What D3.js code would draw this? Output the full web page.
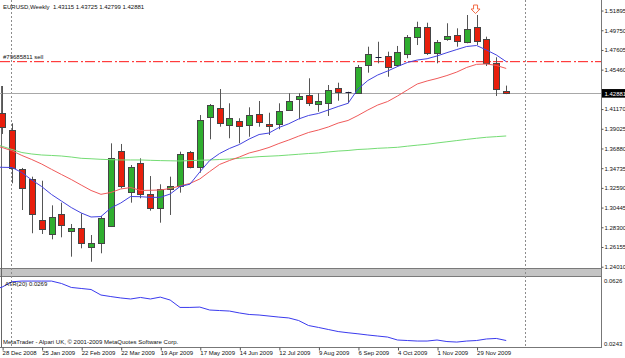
<!DOCTYPE html>
<html><head><meta charset="utf-8">
<script src="https://cdn.jsdelivr.net/npm/d3@7"></script>
<style>
html,body{margin:0;padding:0;background:#fff;overflow:hidden}
svg{display:block}
text{font-family:"Liberation Sans",Arial,sans-serif;font-size:6px;fill:#111}
</style>
</head><body>
<svg id="c" width="625" height="358"></svg>
<script>
// ---- data ----
const weeks = ["28 Dec 2008","4 Jan 2009","11 Jan 2009","18 Jan 2009","25 Jan 2009","1 Feb 2009","8 Feb 2009","15 Feb 2009","22 Feb 2009","1 Mar 2009","8 Mar 2009","15 Mar 2009","22 Mar 2009","29 Mar 2009","5 Apr 2009","12 Apr 2009","19 Apr 2009","26 Apr 2009","3 May 2009","10 May 2009","17 May 2009","24 May 2009","31 May 2009","7 Jun 2009","14 Jun 2009","21 Jun 2009","28 Jun 2009","5 Jul 2009","12 Jul 2009","19 Jul 2009","26 Jul 2009","2 Aug 2009","9 Aug 2009","16 Aug 2009","23 Aug 2009","30 Aug 2009","6 Sep 2009","13 Sep 2009","20 Sep 2009","27 Sep 2009","4 Oct 2009","11 Oct 2009","18 Oct 2009","25 Oct 2009","1 Nov 2009","8 Nov 2009","15 Nov 2009","22 Nov 2009","29 Nov 2009","6 Dec 2009","13 Dec 2009","20 Dec 2009"];
const openP  = [1.4078,1.3889,1.3461,1.3352,1.2909,1.2754,1.2971,1.2790,1.2819,1.2612,1.2662,1.2844,1.3661,1.3218,1.3530,1.3189,1.3037,1.3244,1.3280,1.3653,1.3483,1.4027,1.4125,1.3940,1.3987,1.3944,1.4063,1.3954,1.3951,1.4107,1.4223,1.4270,1.4172,1.4186,1.4343,1.4300,1.4295,1.4597,1.4687,1.4695,1.4597,1.4716,1.4898,1.5007,1.4731,1.4876,1.4923,1.4850,1.5007,1.4876,1.4622,1.43115];
const highP  = [1.4368,1.3962,1.3476,1.3381,1.3337,1.3069,1.3098,1.2866,1.2982,1.2746,1.2953,1.3744,1.3737,1.3508,1.3581,1.3388,1.3298,1.3381,1.3653,1.3660,1.4052,1.4172,1.4335,1.4180,1.4017,1.4136,1.4205,1.4077,1.4180,1.4289,1.4289,1.4452,1.4289,1.4379,1.4404,1.4306,1.4597,1.4796,1.4850,1.4742,1.4804,1.4923,1.5068,1.5057,1.4869,1.5051,1.4996,1.5141,1.5141,1.4905,1.4681,1.43725];
const lowP   = [1.3846,1.3309,1.3018,1.2765,1.2757,1.2699,1.2721,1.2510,1.2601,1.2455,1.2547,1.2833,1.3255,1.3098,1.3146,1.3011,1.2880,1.2964,1.3207,1.3472,1.3424,1.3788,1.3925,1.3799,1.3744,1.3816,1.3925,1.3835,1.3897,1.4101,1.4006,1.4150,1.4088,1.4042,1.4208,1.4180,1.4295,1.4513,1.4615,1.4469,1.4578,1.4670,1.4814,1.4706,1.4615,1.4861,1.4796,1.4833,1.4814,1.4586,1.4259,1.42799];
const closeP = [1.3919,1.3479,1.3261,1.2971,1.2808,1.2939,1.2858,1.2826,1.2662,1.2656,1.2928,1.3581,1.3280,1.3483,1.3189,1.3037,1.3244,1.3280,1.3631,1.3490,1.3995,1.4158,1.3962,1.4017,1.3933,1.4052,1.3976,1.3933,1.4099,1.4202,1.4259,1.4180,1.4205,1.4325,1.4300,1.4300,1.4572,1.4716,1.4687,1.4578,1.4735,1.4905,1.5007,1.4724,1.4844,1.4912,1.4861,1.4985,1.4861,1.4615,1.4332,1.42881];
// moving averages & ATR start one week before the first visible week (index -1)
const maFast = [1.3486,1.3483,1.3481,1.3426,1.3345,1.3274,1.3187,1.3116,1.3045,1.2986,1.2942,1.2947,1.3040,1.3094,1.3165,1.3163,1.3156,1.3156,1.3192,1.3274,1.3299,1.3432,1.3557,1.3633,1.3688,1.3731,1.3791,1.3840,1.3856,1.3916,1.3957,1.4009,1.4047,1.4069,1.4107,1.4145,1.4180,1.4335,1.4428,1.4488,1.4531,1.4580,1.4624,1.4651,1.4665,1.4695,1.4731,1.4765,1.4798,1.4809,1.4760,1.4706,1.4633];
const maMid  = [1.3720,1.3699,1.3663,1.3612,1.3568,1.3519,1.3461,1.3405,1.3350,1.3290,1.3231,1.3189,1.3209,1.3247,1.3263,1.3231,1.3233,1.3236,1.3252,1.3280,1.3307,1.3356,1.3437,1.3514,1.3557,1.3595,1.3639,1.3666,1.3699,1.3742,1.3780,1.3822,1.3862,1.3889,1.3922,1.3965,1.3993,1.4047,1.4107,1.4161,1.4199,1.4259,1.4325,1.4390,1.4423,1.4450,1.4482,1.4520,1.4570,1.4604,1.4608,1.4592,1.4559];
const maSlow = [1.3748,1.3712,1.3677,1.3644,1.3628,1.3617,1.3612,1.3606,1.3595,1.3581,1.3576,1.3570,1.3566,1.3563,1.3563,1.3563,1.3559,1.3556,1.3554,1.3552,1.3556,1.3560,1.3563,1.3568,1.3573,1.3581,1.3590,1.3599,1.3604,1.3609,1.3617,1.3625,1.3633,1.3639,1.3650,1.3660,1.3666,1.3677,1.3682,1.3690,1.3695,1.3701,1.3713,1.3724,1.3734,1.3748,1.3761,1.3774,1.3787,1.3799,1.3810,1.3817,1.3824];
const atr20  = [0.0562,0.0579,0.0610,0.0614,0.0614,0.0614,0.0614,0.0600,0.0577,0.0571,0.0565,0.0533,0.0524,0.0516,0.0510,0.0519,0.0510,0.0521,0.0504,0.0461,0.0461,0.0463,0.0446,0.0443,0.0440,0.0429,0.0420,0.0417,0.0411,0.0405,0.0400,0.0385,0.0356,0.0345,0.0333,0.0321,0.0314,0.0308,0.0301,0.0295,0.0289,0.0272,0.0269,0.0266,0.0266,0.0272,0.0263,0.0260,0.0266,0.0269,0.0278,0.0281,0.0269];
const priceTicks = [1.24010,1.26155,1.28300,1.30445,1.32590,1.34735,1.36880,1.39025,1.41170,1.43315,1.45460,1.47605,1.49750,1.51895];
const atrTicks = [0.0243,0.0626];
const dateTickIdx = [0,4,8,12,16,20,24,28,32,36,40,44,48];
const separatorIdx = [1,53];          // year separators (4 Jan 2009, 3 Jan 2010)
const orderPrice = 1.4640, orderLabel = "#79685811 sell";
const bidPrice = 1.42881;
const arrowIdx = 48;
const title = "EURUSD,Weekly  1.43115 1.43725 1.42799 1.42881";
const atrLabel = "ATR(20) 0.0269";
const copyright = "MetaTrader - Alpari UK, \u00a9 2001-2009 MetaQuotes Software Corp.";

// ---- layout ----
const svg = d3.select("#c");
const R = 601;
const mainTop = 0, mainBot = 268, indTop = 277, indBot = 347;
const x  = d3.scaleLinear().domain([0, 52]).range([2.1, 516.1]);
const y  = d3.scaleLinear().domain([priceTicks[0], priceTicks[priceTicks.length-1]]).range([266.7, 10.55]);
const ya = d3.scaleLinear().domain(atrTicks).range([345, 279]);
const px = v => Math.round(v) + 0.5;
const fmt5 = d3.format(".5f");

svg.append("rect").attr("width",625).attr("height",358).attr("fill","#ffffff");
const defs = svg.append("defs");
defs.append("clipPath").attr("id","cm").append("rect").attr("x",0).attr("y",mainTop).attr("width",R).attr("height",mainBot-mainTop);
defs.append("clipPath").attr("id","ci").append("rect").attr("x",0).attr("y",indTop).attr("width",R).attr("height",indBot-indTop);

// separator band between panes
svg.append("rect").attr("x",0).attr("y",mainBot).attr("width",R).attr("height",indTop-mainBot).attr("fill","#c4c4c4");
[mainBot+0.5, indTop-0.5].forEach(v => svg.append("line").attr("x1",0).attr("x2",R).attr("y1",v).attr("y2",v).attr("stroke","#7a7a7a"));
svg.append("line").attr("x1",1.5).attr("x2",1.5).attr("y1",86).attr("y2",indBot).attr("stroke","#666");

// period separators
separatorIdx.forEach(i => svg.append("line").attr("x1",px(x(i))-1).attr("x2",px(x(i))-1).attr("y1",0).attr("y2",indBot)
  .attr("stroke","#8c8c8c").attr("stroke-dasharray","2,2"));

const main = svg.append("g").attr("clip-path","url(#cm)");
// bid line
main.append("line").attr("x1",0).attr("x2",R).attr("y1",px(y(bidPrice))).attr("y2",px(y(bidPrice))).attr("stroke","#a8a8a8");
// order line (dash-dot, red), drawn as small filled segments
const oy = Math.round(y(orderPrice));
const dashStarts = d3.range(0, R, 17);
main.append("g").selectAll("rect").data(dashStarts.flatMap(s => [[s,10],[s+13,2]])).join("rect")
  .attr("x",d=>d[0]).attr("y",oy).attr("width",d=>Math.min(d[1], R-d[0])).attr("height",1.2)
  .attr("fill","#ff3c3c");

// candles
const idx = d3.range(openP.length);
const cg = main.append("g");
cg.selectAll("line.w").data(idx).join("line").attr("class","w")
  .attr("x1",i=>px(x(i))).attr("x2",i=>px(x(i)))
  .attr("y1",i=>y(highP[i])).attr("y2",i=>y(lowP[i]))
  .attr("stroke","#555").attr("stroke-width",1);
idx.forEach(i => {
  const o = openP[i], c = closeP[i], cx = px(x(i));
  const top = y(Math.max(o,c)), bot = y(Math.min(o,c));
  if (bot - top < 1) {
    cg.append("line").attr("x1",cx-3).attr("x2",cx+3).attr("y1",Math.round(top)+0.5).attr("y2",Math.round(top)+0.5).attr("stroke","#1a1a3a");
  } else {
    cg.append("rect").attr("x",cx-3).attr("width",6)
      .attr("y",Math.round(top)+0.5).attr("height",Math.max(1,Math.round(bot)-Math.round(top)))
      .attr("fill", c > o ? "#2fae2f" : "#e81e0c").attr("stroke","#454545").attr("stroke-width",1);
  }
});

// moving averages
const maLine = d3.line().x((d,k)=>x(k-1)).y(d=>y(d));
[[maSlow,"#74dc74"],[maMid,"#f05a5a"],[maFast,"#4444e0"]].forEach(([arr,col]) =>
  main.append("path").attr("d",maLine(arr)).attr("fill","none").attr("stroke",col).attr("stroke-width",1));

// sell arrow
const ax = x(arrowIdx) - 1;
svg.append("path").attr("d",`M${ax-2},5 h4 v4 h2.5 l-4.5,4.5 l-4.5,-4.5 h2.5 z`)
  .attr("fill","#fff").attr("stroke","#f26a45").attr("stroke-width",1);

// ATR
const ind = svg.append("g").attr("clip-path","url(#ci)");
ind.append("path").attr("d",d3.line().x((d,k)=>x(k-1)).y(d=>ya(d))(atr20))
  .attr("fill","none").attr("stroke","#3a3aee").attr("stroke-width",1);

// right axis (the label hidden under the bid box is left out)
svg.append("line").attr("x1",R+0.5).attr("x2",R+0.5).attr("y1",0).attr("y2",indBot+0.5).attr("stroke","#777");
const ra = svg.append("g").attr("transform",`translate(${R+0.5},0)`)
  .call(d3.axisRight(y).tickValues(priceTicks)
    .tickFormat(v => Math.abs(y(v) - y(bidPrice)) < 7 ? "" : fmt5(v)).tickSize(2).tickPadding(1));
ra.select(".domain").remove();
ra.selectAll("line").attr("stroke","#555");
ra.selectAll("text").attr("fill","#222").style("font-size","6px").style("font-family","'Liberation Sans',Arial,sans-serif");
// bid box
const by = y(bidPrice);
svg.append("rect").attr("x",R+1).attr("y",by-4.3).attr("width",24).attr("height",8.6).attr("fill","#000");
svg.append("text").attr("x",R+3.5).attr("y",by+2.2).style("fill","#fff").text(fmt5(bidPrice));
// ATR scale labels
svg.append("text").attr("x",R+3).attr("y",ya(atrTicks[1])+3.5).text(atrTicks[1].toFixed(4));
svg.append("text").attr("x",R+3).attr("y",ya(atrTicks[0])+1).text(atrTicks[0].toFixed(4));

// bottom axis
svg.append("line").attr("x1",0).attr("x2",R+1).attr("y1",indBot+0.5).attr("y2",indBot+0.5).attr("stroke","#777");
const ba = svg.append("g").attr("transform",`translate(0,${indBot+0.5})`)
  .call(d3.axisBottom(x).tickValues(dateTickIdx).tickFormat(i=>weeks[i]).tickSize(3).tickPadding(0.6));
ba.select(".domain").remove();
ba.selectAll("line").attr("stroke","#555").attr("transform","translate(0.5,0)");
ba.selectAll("text").attr("text-anchor","start").attr("x",0).attr("fill","#111")
  .style("font-size","6px").style("font-family","'Liberation Sans',Arial,sans-serif");

// labels
svg.append("text").attr("x",3).attr("y",8.5).attr("xml:space","preserve").text(title);
svg.append("text").attr("x",3).attr("y",y(orderPrice)-2.5).text(orderLabel);
svg.append("text").attr("x",5).attr("y",286).text(atrLabel);
svg.append("text").attr("x",3).attr("y",344).text(copyright);
</script>
</body></html>
